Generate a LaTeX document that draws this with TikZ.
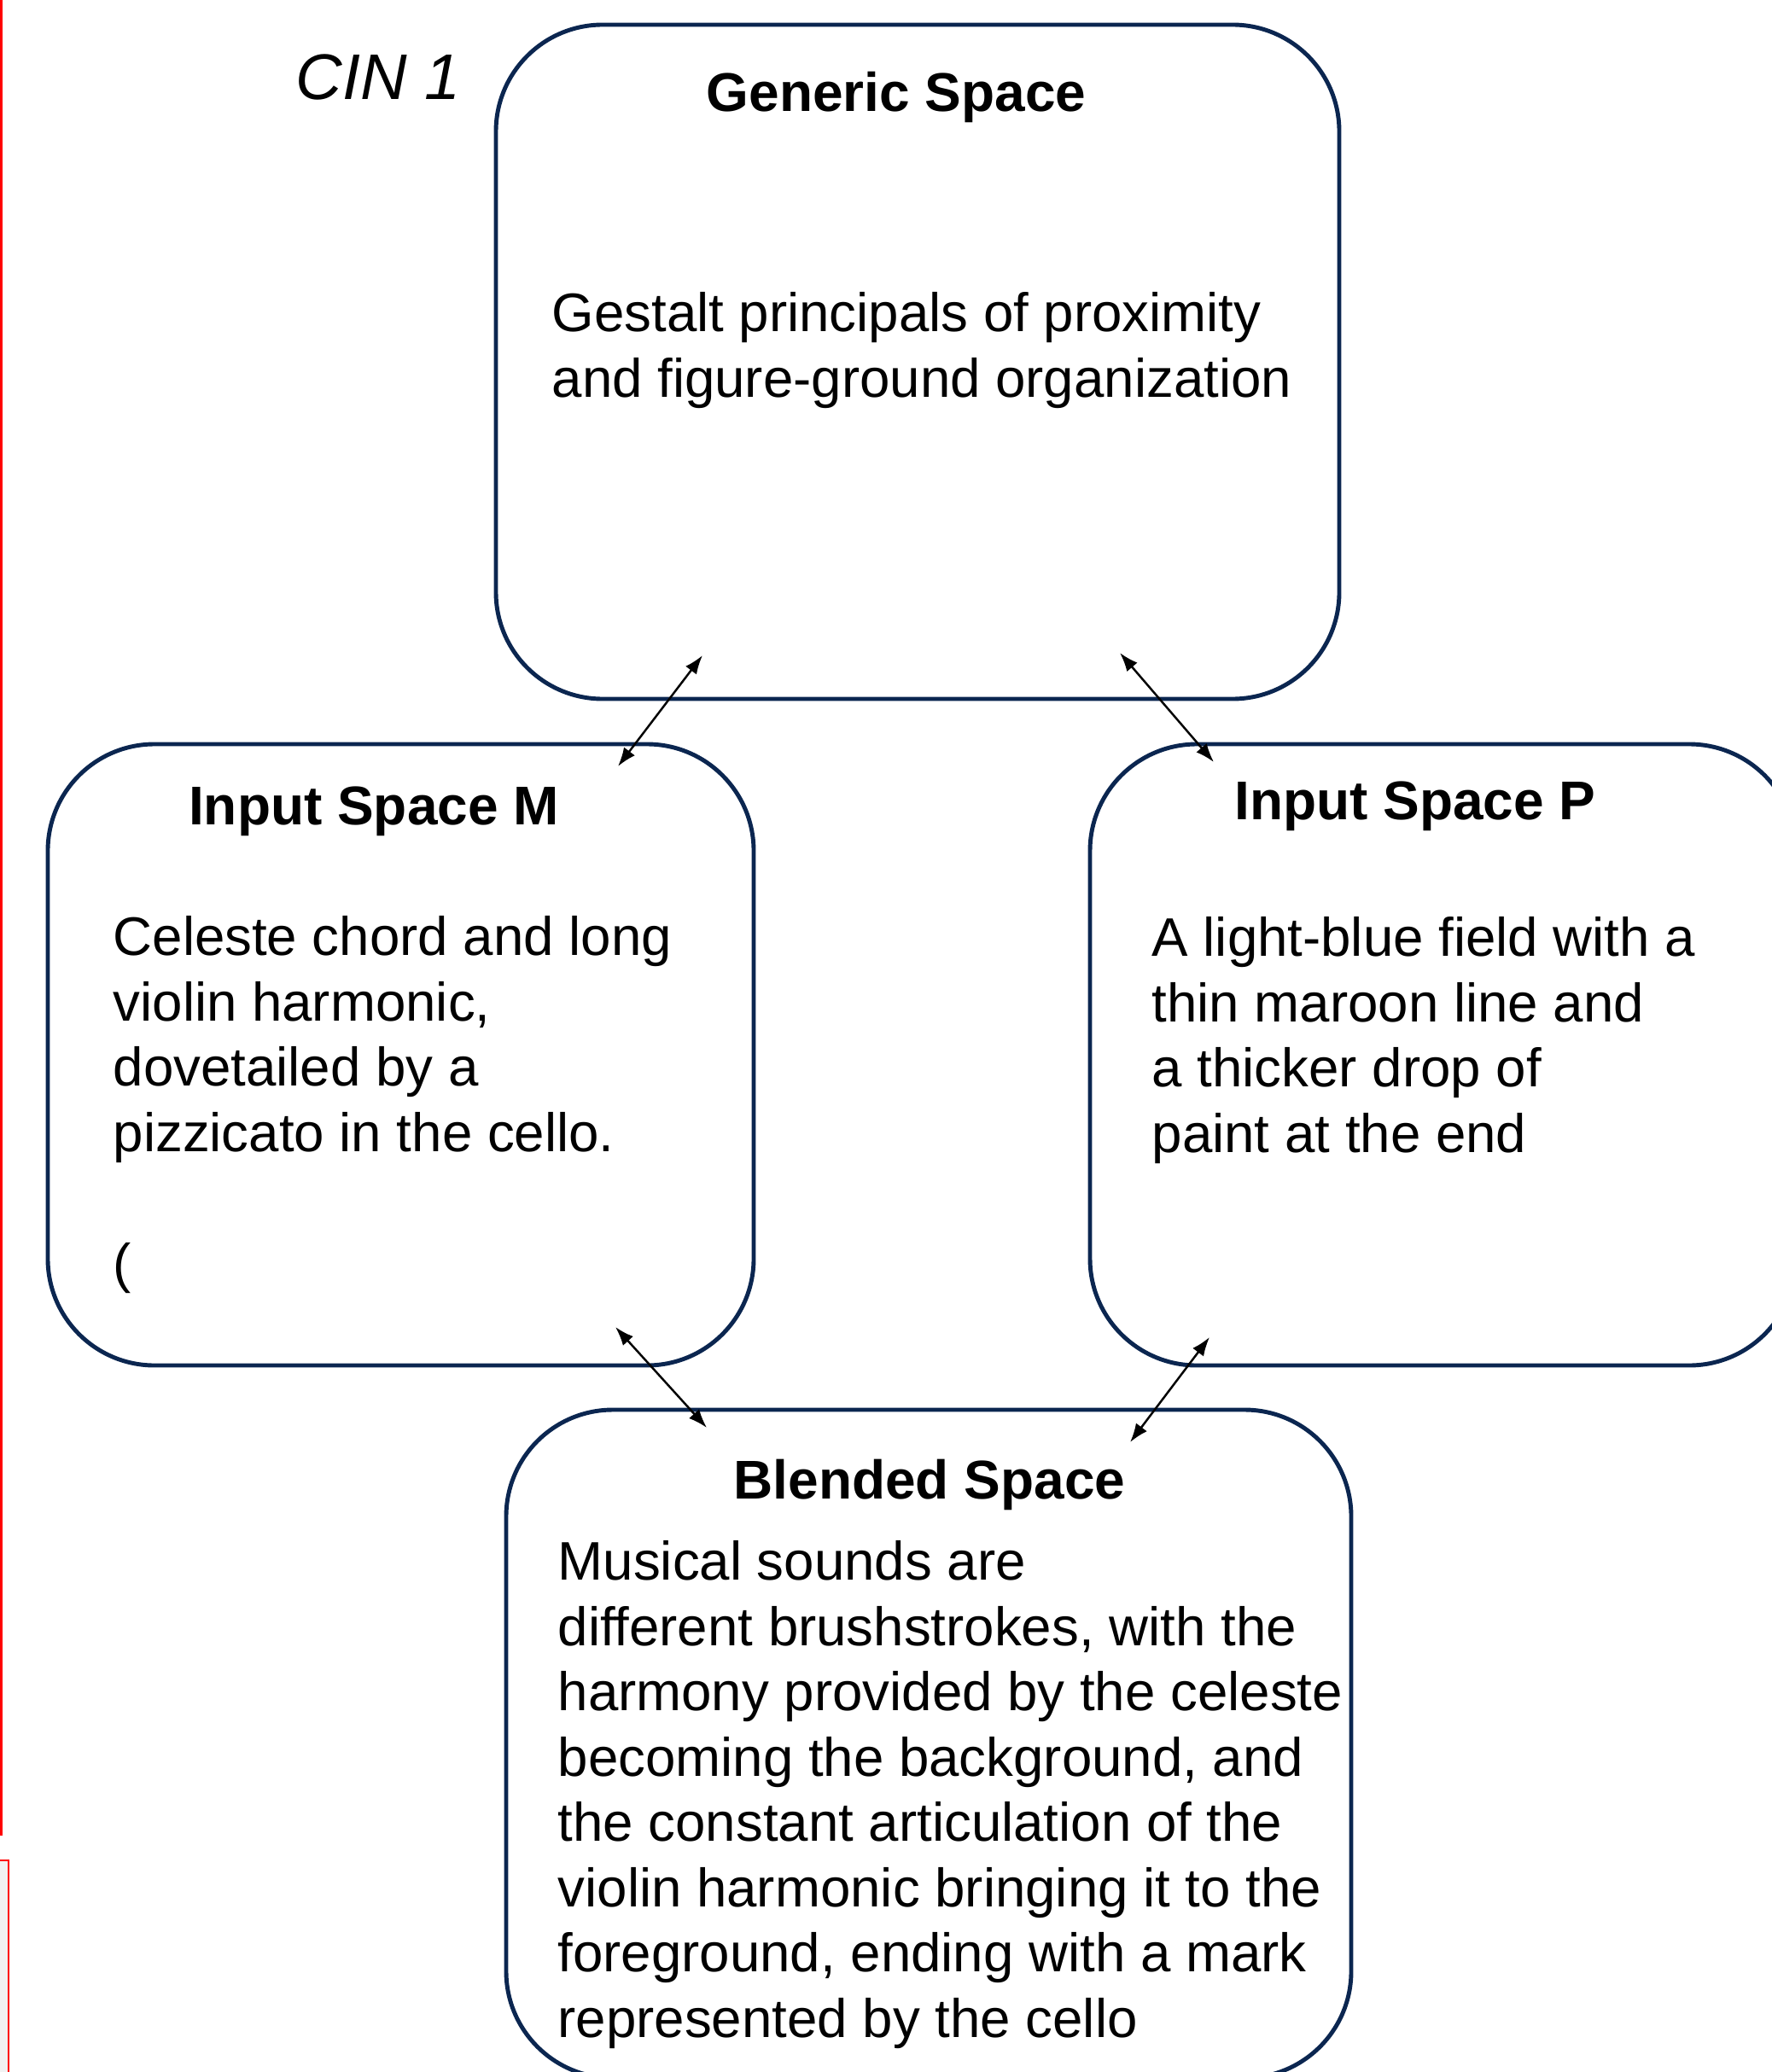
\documentclass[tikz,border=0pt]{standalone}
\usepackage{fontspec}
\setmainfont{Liberation Sans}
\usetikzlibrary{arrows.meta}
\definecolor{spaceline}{HTML}{0B2650}

\begin{document}
\begin{tikzpicture}[
    every node/.style={inner sep=0pt},
    space/.style={draw=spaceline, line width=1.4pt, rounded corners=1.25cm},
    heading/.style={font=\fontsize{18.2}{21.8}\selectfont\bfseries, anchor=base},
    body/.style={font=\fontsize{18.1}{21.76}\selectfont, align=left, anchor=north west},
    link/.style={{Latex[length=2.2mm,width=1.6mm]}-{Latex[length=2.2mm,width=1.6mm]}, line width=0.7pt}
]
\useasboundingbox (0,0) rectangle (20.75,-24.28);
\draw[red, line width=0.8pt] (-0.5,0.5) rectangle (0.015,-21.5);
\draw[red, line width=0.8pt, fill=gray!10] (-0.5,-21.8) rectangle (0.1,-25);
\node[font=\fontsize{21.5}{26}\selectfont\itshape, anchor=base west] (cin) at (3.46,-1.17) {CIN 1};
\node[space, minimum width=9.88cm, minimum height=7.90cm] (generic) at (10.75,-4.24) {};
\node[space, minimum width=8.27cm, minimum height=7.28cm] (inputm) at (4.695,-12.36) {};
\node[space, minimum width=8.27cm, minimum height=7.28cm] (inputp) at (16.905,-12.36) {};
\node[space, minimum width=9.90cm, minimum height=7.83cm] (blended) at (10.88,-20.435) {};
\node[heading] (generictitle) at (10.50,-1.31) {Generic Space};
\node[heading] (inputmtitle) at (4.38,-9.66) {Input Space M};
\node[heading] (inputptitle) at (16.58,-9.60) {Input Space P};
\node[heading] (blendedtitle) at (10.89,-17.56) {Blended Space};
\node[body] (generictext) at (6.46,-3.42) {Gestalt principals of proximity\\and figure-ground organization};
\node[body] (inputmtext) at (1.32,-10.73) {Celeste chord and long\\violin harmonic,\\dovetailed by a\\pizzicato in the cello.\\[21.76pt](};
\node[body] (inputptext) at (13.49,-10.74) {A light-blue field with a\\thin maroon line and\\a thicker drop of\\paint at the end};
\node[body] (blendedtext) at (6.53,-18.05) {Musical sounds are\\different brushstrokes, with the\\harmony provided by the celeste\\becoming the background, and\\the constant articulation of the\\violin harmonic bringing it to the\\foreground, ending with a mark\\represented by the cello};
\coordinate (gm) at (8.23,-7.68);
\coordinate (mg) at (7.24,-8.98);
\coordinate (gp) at (13.12,-7.65);
\coordinate (pg) at (14.22,-8.93);
\coordinate (mb) at (7.21,-15.55);
\coordinate (bm) at (8.28,-16.73);
\coordinate (pb) at (14.17,-15.67);
\coordinate (bp) at (13.24,-16.90);
\draw[link] (gm) -- (mg);
\draw[link] (gp) -- (pg);
\draw[link] (mb) -- (bm);
\draw[link] (pb) -- (bp);
\end{tikzpicture}
\end{document}
